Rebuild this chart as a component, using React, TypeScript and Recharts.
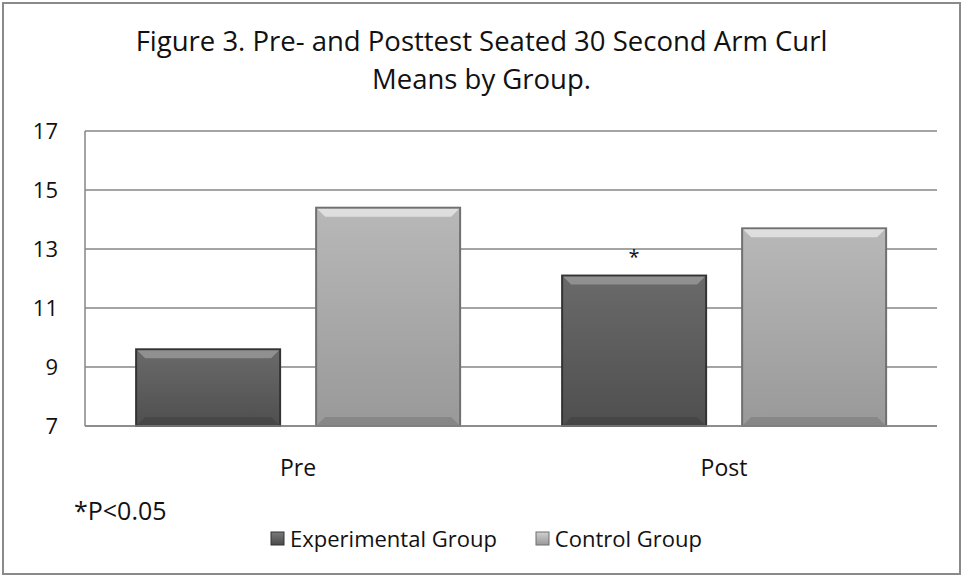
import { BarChart, Bar, XAxis, YAxis, CartesianGrid, Legend, LabelList } from 'recharts';

const categories = ['Pre', 'Post'];
const experimentalMeans = [9.6, 12.1];
const controlMeans = [14.4, 13.7];
const significance = ['', '*'];
const yTicks = [7, 9, 11, 13, 15, 17];

const data = categories.map((name, i) => ({
  name,
  experimental: experimentalMeans[i],
  control: controlMeans[i],
  sig: significance[i],
}));

const FONT = "'Open Sans', 'Noto Sans', sans-serif";

// bar with a bevelled look like the old Excel 2007 style
const BevelBar = (props: any) => {
  const { x, y, width, height, gradId, edge, hi } = props;
  if (!height || height <= 0) return null;
  const b = 9;
  return (
    <g>
      <rect x={x} y={y} width={width} height={height} fill={`url(#${gradId})`} stroke={edge} strokeWidth={2} />
      <polygon
        points={`${x + 1},${y + 1} ${x + width - 1},${y + 1} ${x + width - b},${y + b} ${x + b},${y + b}`}
        fill={hi}
        opacity={0.55}
      />
      <polygon
        points={`${x + 1},${y + height - 1} ${x + width - 1},${y + height - 1} ${x + width - b},${y + height - b} ${x + b},${y + height - b}`}
        fill="#000"
        opacity={0.12}
      />
    </g>
  );
};

const legendItems = [
  { label: 'Experimental Group', top: '#7a7a7a', bottom: '#4a4a4a', edge: '#333333' },
  { label: 'Control Group', top: '#d0d0d0', bottom: '#999999', edge: '#6f6f6f' },
];

const renderLegend = () => (
  <div
    style={{
      display: 'flex',
      justifyContent: 'center',
      gap: 38,
      paddingTop: 16,
      paddingLeft: 10,
      fontFamily: FONT,
      fontSize: 22,
      color: '#111',
    }}
  >
    {legendItems.map((item, i) => (
      <div key={item.label} style={{ display: 'flex', alignItems: 'center' }}>
        <svg width={15} height={15} style={{ marginRight: 5 }}>
          <defs>
            <linearGradient id={`legGrad${i}`} x1="0" y1="0" x2="0" y2="1">
              <stop offset="0%" stopColor={item.top} />
              <stop offset="100%" stopColor={item.bottom} />
            </linearGradient>
          </defs>
          <rect x={1} y={1} width={13} height={13} fill={`url(#legGrad${i})`} stroke={item.edge} strokeWidth={1} />
        </svg>
        <span>{item.label}</span>
      </div>
    ))}
  </div>
);

const renderSig = (props: any) => {
  const { x, y, width, index } = props;
  const mark = significance[index];
  if (!mark) return null;
  return (
    <text x={x + width / 2} y={y - 12} textAnchor="middle" fontFamily={FONT} fontSize={20} fill="#111">
      {mark}
    </text>
  );
};

export default function App() {
  return (
    <div style={{ position: 'absolute', left: 0, top: 0, width: 963, height: 577, background: '#fff' }}>
      <div
        style={{
          position: 'absolute',
          left: 2,
          top: 2,
          width: 959,
          height: 573,
          boxSizing: 'border-box',
          border: '2px solid #8a8a8a',
        }}
      />
      <div
        style={{
          position: 'absolute',
          left: 0,
          top: 22,
          width: 963,
          textAlign: 'center',
          fontFamily: FONT,
          fontSize: 27.5,
          lineHeight: '38px',
          color: '#111',
        }}
      >
        Figure 3. Pre- and Posttest Seated 30 Second Arm Curl
        <br />
        Means by Group.
      </div>
      <div
        style={{
          position: 'absolute',
          left: 74,
          top: 493,
          fontFamily: FONT,
          fontSize: 25,
          lineHeight: 'normal',
          color: '#111',
        }}
      >
        *P&lt;0.05
      </div>
      <div style={{ position: 'absolute', left: 0, top: 0 }}>
        <BarChart
          width={963}
          height={577}
          data={data}
          margin={{ top: 131, right: 26, left: 25, bottom: 0 }}
          barCategoryGap="12%"
          barGap={36}
        >
          <defs>
            <linearGradient id="gradExp" x1="0" y1="0" x2="0" y2="1">
              <stop offset="0%" stopColor="#6a6a6a" />
              <stop offset="100%" stopColor="#4f4f4f" />
            </linearGradient>
            <linearGradient id="gradCtl" x1="0" y1="0" x2="0" y2="1">
              <stop offset="0%" stopColor="#b8b8b8" />
              <stop offset="100%" stopColor="#999999" />
            </linearGradient>
          </defs>
          <CartesianGrid vertical={false} stroke="#868686" strokeWidth={1.5} />
          <XAxis
            dataKey="name"
            axisLine={{ stroke: '#868686', strokeWidth: 1.5 }}
            tickLine={false}
            tickSize={0}
            tickMargin={34}
            height={81}
            tick={{ fill: '#111', fontFamily: FONT, fontSize: 23 }}
          />
          <YAxis
            domain={[7, 17]}
            ticks={yTicks}
            interval={0}
            width={60}
            axisLine={{ stroke: '#868686', strokeWidth: 1.5 }}
            tickLine={false}
            tickSize={0}
            tickMargin={27}
            tick={{ fill: '#111', fontFamily: FONT, fontSize: 22 }}
          />
          <Legend verticalAlign="bottom" height={70} content={renderLegend} />
          <Bar
            dataKey="experimental"
            name="Experimental Group"
            isAnimationActive={false}
            shape={(p: any) => <BevelBar {...p} gradId="gradExp" edge="#333333" hi="#b0b0b0" />}
          >
            <LabelList dataKey="sig" content={renderSig} />
          </Bar>
          <Bar
            dataKey="control"
            name="Control Group"
            isAnimationActive={false}
            shape={(p: any) => <BevelBar {...p} gradId="gradCtl" edge="#707070" hi="#ffffff" />}
          />
        </BarChart>
      </div>
    </div>
  );
}
